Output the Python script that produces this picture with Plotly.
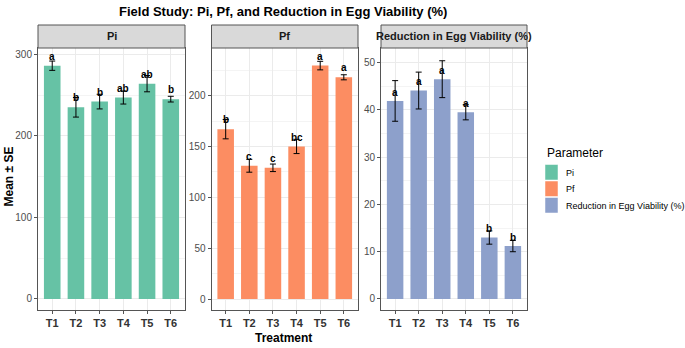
import plotly.graph_objects as go

treatments = ["T1", "T2", "T3", "T4", "T5", "T6"]
pi_mean = [286, 235, 242, 247, 264, 245]
pi_se = [5.7, 12, 9, 8, 10, 3.5]
pi_letters = ["a", "b", "b", "ab", "ab", "b"]
pf_mean = [167, 131, 129, 150, 229.5, 218]
pf_se = [9.5, 6.3, 3.7, 7, 4.2, 2.5]
pf_letters = ["b", "c", "c", "bc", "a", "a"]
red_mean = [41.9, 44.1, 46.5, 39.5, 13.0, 11.2]
red_se = [4.3, 3.9, 3.9, 1.6, 1.4, 1.2]
red_letters = ["a", "a", "a", "a", "b", "b"]

params = ["Pi", "Pf", "Reduction in Egg Viability (%)"]
colors = ["#66C2A5", "#FC8D62", "#8DA0CB"]
means = [pi_mean, pf_mean, red_mean]
ses = [pi_se, pf_se, red_se]
letters = [pi_letters, pf_letters, red_letters]

W, H = 685, 348
FONT = "Liberation Sans, Arial, sans-serif"

def px(x):
    return x / W

def py(y):
    return 1 - y / H

x_dom = [(38, 185), (211.5, 358), (381, 527)]
y_top, y_bot = 48, 310
strip_top = 25
y_ranges = [[-13.5, 307.7], [-10.8, 246.8], [-2.33, 53.1]]
dticks = [100, 50, 10]

fig = go.Figure()
annotations = []
shapes = []

for i in range(3):
    xa = "x" if i == 0 else f"x{i+1}"
    ya = "y" if i == 0 else f"y{i+1}"
    fig.add_trace(go.Bar(
        x=treatments, y=means[i], width=0.7,
        marker=dict(color=colors[i], line=dict(width=0)),
        error_y=dict(type="data", array=ses[i], color="black", thickness=1, width=3),
        xaxis=xa, yaxis=ya, showlegend=False, name=params[i],
    ))
    off = 0.04 * max(means[i])
    for t, m, l in zip(treatments, means[i], letters[i]):
        annotations.append(dict(
            x=t, y=m + off, xref=xa, yref=ya, text=f"<b>{l}</b>", showarrow=False,
            font=dict(family=FONT, size=10, color="black"), yanchor="middle",
        ))
    axname_x = "xaxis" if i == 0 else f"xaxis{i+1}"
    axname_y = "yaxis" if i == 0 else f"yaxis{i+1}"
    fig.update_layout(**{
        axname_x: dict(
            domain=[px(x_dom[i][0]), px(x_dom[i][1])], anchor=ya, type="category",
            range=[-0.6, 5.6], showgrid=True, gridcolor="#EBEBEB", gridwidth=1,
            showline=True, linecolor="#555555", linewidth=1, mirror=True,
            ticks="outside", ticklen=3, tickcolor="#555555",
            tickfont=dict(family=FONT, size=11, color="#333333", weight="bold"),
            zeroline=False, fixedrange=True,
        ),
        axname_y: dict(
            domain=[py(y_bot), py(y_top)], anchor=xa, range=y_ranges[i],
            dtick=dticks[i], tick0=0, showgrid=True, gridcolor="#EBEBEB", gridwidth=1,
            minor=dict(dtick=dticks[i] / 2, tick0=0, showgrid=True, gridcolor="#F4F4F4", gridwidth=1),
            showline=True, linecolor="#555555", linewidth=1, mirror=True,
            ticks="outside", ticklen=3, tickcolor="#555555",
            tickfont=dict(family=FONT, size=10, color="#4D4D4D"),
            zeroline=False, fixedrange=True,
        ),
    })
    # strip
    shapes.append(dict(
        type="rect", xref="paper", yref="paper",
        x0=px(x_dom[i][0]), x1=px(x_dom[i][1]), y0=py(y_top), y1=py(strip_top),
        fillcolor="#D9D9D9", line=dict(color="#555555", width=1), layer="above",
    ))
    annotations.append(dict(
        x=px((x_dom[i][0] + x_dom[i][1]) / 2), y=py((strip_top + y_top) / 2),
        xref="paper", yref="paper", text=f"<b>{params[i]}</b>", showarrow=False,
        font=dict(family=FONT, size=11, color="#1A1A1A"), xanchor="center", yanchor="middle",
    ))

# titles
annotations.append(dict(
    x=px(283), y=py(12), xref="paper", yref="paper",
    text="<b>Field Study: Pi, Pf, and Reduction in Egg Viability (%)</b>", showarrow=False,
    font=dict(family=FONT, size=13, color="black"), xanchor="center", yanchor="middle",
))
annotations.append(dict(
    x=px(8.5), y=py(177), xref="paper", yref="paper", text="<b>Mean ± SE</b>",
    showarrow=False, textangle=-90,
    font=dict(family=FONT, size=12, color="black"), xanchor="center", yanchor="middle",
))
annotations.append(dict(
    x=px(283), y=py(338), xref="paper", yref="paper", text="<b>Treatment</b>",
    showarrow=False, font=dict(family=FONT, size=12, color="black"),
    xanchor="center", yanchor="middle",
))

# legend
annotations.append(dict(
    x=px(545), y=py(153), xref="paper", yref="paper", text="Parameter",
    showarrow=False, font=dict(family=FONT, size=12, color="black"),
    xanchor="left", yanchor="middle",
))
key_tops = [164.5, 181, 197.5]
for name, c, kt in zip(params, colors, key_tops):
    shapes.append(dict(
        type="rect", xref="paper", yref="paper",
        x0=px(545), x1=px(558), y0=py(kt + 15.5), y1=py(kt),
        fillcolor=c, line=dict(width=0.5, color="white"),
    ))
    annotations.append(dict(
        x=px(564), y=py(kt + 8), xref="paper", yref="paper", text=name,
        showarrow=False, font=dict(family=FONT, size=9, color="black"),
        xanchor="left", yanchor="middle",
    ))

fig.update_layout(
    width=W, height=H, margin=dict(l=0, r=0, t=0, b=0),
    paper_bgcolor="white", plot_bgcolor="white",
    annotations=annotations, shapes=shapes, showlegend=False, bargap=0.3,
    font=dict(family=FONT),
)

fig.write_html(
    "out.html",
    config={"displayModeBar": False},
    post_script="document.body.style.margin='0';document.body.style.overflow='hidden';",
)
